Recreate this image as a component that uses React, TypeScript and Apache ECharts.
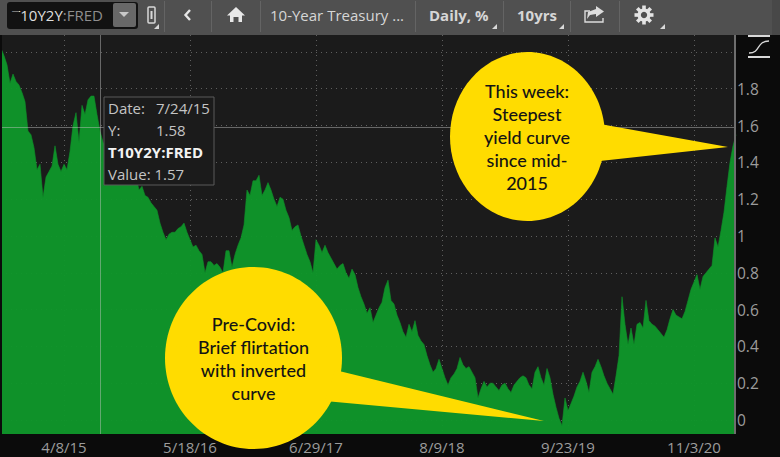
import React, { useEffect, useRef } from "react";
import * as echarts from "echarts";

const values = [
  2.02, 1.98, 1.93, 1.83, 1.88, 1.84, 1.82, 1.78, 1.73, 1.57,
  1.55, 1.48, 1.36, 1.39, 1.21, 1.32, 1.35, 1.38, 1.49, 1.39,
  1.35, 1.39, 1.36, 1.46, 1.6, 1.67, 1.51, 1.71, 1.66, 1.74,
  1.76, 1.76, 1.66, 1.57, 1.51, 1.48, 1.46, 1.47, 1.43, 1.41,
  1.42, 1.39, 1.37, 1.38, 1.35, 1.32, 1.25, 1.27, 1.22, 1.21,
  1.18, 1.16, 1.14, 1.07, 1.02, 0.98, 1.01, 1.02, 1.02, 1.04,
  1.05, 1.07, 1.02, 0.98, 0.94, 0.95, 0.92, 0.9, 0.8, 0.86,
  0.86, 0.84, 0.85, 0.83, 0.8, 0.92, 0.92, 0.83, 0.9, 0.95,
  0.99, 1.06, 1.25, 1.22, 1.3, 1.3, 1.33, 1.22, 1.25, 1.29,
  1.25, 1.2, 1.16, 1.21, 1.2, 1.14, 1.1, 1.03, 1.05, 1.06,
  1.0, 0.95, 0.9, 0.86, 0.8, 0.98, 0.95, 0.91, 0.95, 0.91,
  0.88, 0.85, 0.82, 0.84, 0.85, 0.8, 0.77, 0.82, 0.79, 0.72,
  0.67, 0.63, 0.58, 0.61, 0.53, 0.57, 0.61, 0.64, 0.72, 0.76,
  0.65, 0.63, 0.57, 0.53, 0.48, 0.45, 0.52, 0.48, 0.54, 0.46,
  0.43, 0.41, 0.35, 0.3, 0.26, 0.28, 0.33, 0.28, 0.23, 0.19,
  0.23, 0.25, 0.28, 0.34, 0.3, 0.28, 0.29, 0.26, 0.23, 0.12,
  0.17, 0.21, 0.18, 0.2, 0.2, 0.18, 0.16, 0.19, 0.2, 0.17,
  0.15, 0.19, 0.21, 0.23, 0.24, 0.23, 0.19, 0.17, 0.26, 0.29,
  0.23, 0.19, 0.28, 0.23, 0.14, 0.07, 0.01, -0.03, 0.12, 0.05,
  0.09, 0.13, 0.18, 0.21, 0.26, 0.21, 0.15, 0.26, 0.29, 0.33,
  0.29, 0.24, 0.2, 0.17, 0.14, 0.24, 0.35, 0.67, 0.52, 0.41,
  0.5, 0.41, 0.52, 0.53, 0.5, 0.65, 0.54, 0.52, 0.51, 0.49,
  0.47, 0.45, 0.49, 0.55, 0.6, 0.57, 0.56, 0.55, 0.59, 0.65,
  0.71, 0.75, 0.79, 0.71, 0.78, 0.8, 0.82, 0.84, 0.99, 0.94,
  1.03, 1.13, 1.27, 1.4, 1.49, 1.55,
];

const xTickLabels = ["4/8/15", "5/18/16", "6/29/17", "8/9/18", "9/23/19", "11/3/20"];
const xTickIndexes = [21, 63, 105, 147, 189, 231];
const yTicks = [0, 0.2, 0.4, 0.6, 0.8, 1, 1.2, 1.4, 1.6, 1.8, 2];
const yLabelTicks = [0, 0.2, 0.4, 0.6, 0.8, 1, 1.2, 1.4, 1.6, 1.8];
const crosshairIndex = 33;
const crosshairValue = 1.59;

const categories = values.map((_, i) => {
  const k = xTickIndexes.indexOf(i);
  return k >= 0 ? xTickLabels[k] : "";
});

const UI_FONT = '"Open Sans", sans-serif';
const CALLOUT_FONT = 'Lato, sans-serif';
const YELLOW = "#ffdc00";

function bodyText(x: number, y: number, text: string, extra: any = {}) {
  return {
    type: "text",
    x,
    y,
    z: 130,
    style: {
      text,
      fill: "#c4c4c4",
      font: `15px ${UI_FONT}`,
      textVerticalAlign: "middle",
      ...extra,
    },
  };
}

function calloutText(x: number, y: number, lines: string[]) {
  return lines.map((line, i) => ({
    type: "text",
    x,
    y: y + i * 23,
    z: 140,
    style: {
      text: line,
      fill: "#141414",
      font: `500 18px ${CALLOUT_FONT}`,
      textAlign: "center",
      textVerticalAlign: "middle",
    },
  }));
}

function tri(x: number) {
  return {
    type: "polygon",
    z: 121,
    shape: { points: [[x, 29], [x + 5, 29], [x + 5, 24]] },
    style: { fill: "#d8d8d8" },
  };
}

function sep(x: number) {
  return {
    type: "rect",
    z: 121,
    shape: { x, y: 1, width: 1, height: 31 },
    style: { fill: "#646464" },
  };
}

function buildGraphics() {
  const gearTeeth = [0, 45, 90, 135].map((a) => ({
    type: "rect",
    z: 122,
    x: 644,
    y: 15,
    rotation: (a * Math.PI) / 180,
    shape: { x: -1.8, y: -9.5, width: 3.6, height: 19 },
    style: { fill: "#e4e4e4" },
  }));
  return [
    // left edge
    { type: "rect", z: 50, shape: { x: 0, y: 35, width: 2, height: 399 }, style: { fill: "#0b0b0b" } },
    { type: "rect", z: 50, shape: { x: 734, y: 35, width: 2, height: 399 }, style: { fill: "#6e6e6e" } },
    // toolbar
    { type: "rect", z: 120, shape: { x: 0, y: 0, width: 780, height: 35 }, style: { fill: "#505050" } },
    { type: "rect", z: 120, shape: { x: 772, y: 0, width: 8, height: 35 }, style: { fill: "#484848" } },
    { type: "rect", z: 121, shape: { x: 7, y: 2, width: 131, height: 27, r: 3 }, style: { fill: "#121212" } },
    { type: "rect", z: 122, shape: { x: 113, y: 3, width: 23, height: 24, r: 2 }, style: { fill: "#686868" } },
    { type: "polygon", z: 123, shape: { points: [[119, 12], [129, 12], [124, 17]] }, style: { fill: "#c8c8c8" } },
    {
      type: "text",
      x: 12,
      y: 15,
      z: 123,
      style: {
        text: "{a|T10Y2Y}{b|:FRED}",
        textVerticalAlign: "middle",
        rich: {
          a: { fill: "#dedede", font: `15px ${UI_FONT}` },
          b: { fill: "#8e8e8e", font: `15px ${UI_FONT}` },
        },
      },
    },
    { type: "rect", z: 124, shape: { x: 8, y: 11.5, width: 11, height: 13 }, style: { fill: "#121212" } },
    // link icon
    { type: "rect", z: 122, shape: { x: 148, y: 7, width: 7, height: 16, r: 1 }, style: { fill: "none", stroke: "#d8d8d8", lineWidth: 1.5 } },
    { type: "rect", z: 122, shape: { x: 150.5, y: 11, width: 2, height: 8 }, style: { fill: "#d8d8d8" } },
    tri(154),
    sep(164),
    // back chevron
    { type: "polyline", z: 122, shape: { points: [[190, 10], [185.5, 15], [190, 20]] }, style: { fill: "none", stroke: "#e6e6e6", lineWidth: 2.4 } },
    sep(211),
    // home icon
    { type: "polygon", z: 122, shape: { points: [[236, 7], [245, 15.5], [242, 15.5], [242, 22], [238.5, 22], [238.5, 17], [233.5, 17], [233.5, 22], [230, 22], [230, 15.5], [227, 15.5]] }, style: { fill: "#e8e8e8" } },
    sep(260),
    bodyText(270, 15, "10-Year Treasury ...", { fill: "#d6d6d6" }),
    sep(415),
    bodyText(429, 15, "Daily, %", { fill: "#d6d6d6", font: `bold 15px ${UI_FONT}` }),
    tri(492),
    sep(503),
    bodyText(517, 15, "10yrs", { fill: "#d6d6d6", font: `bold 15px ${UI_FONT}` }),
    tri(559),
    sep(570),
    // share icon
    { type: "polyline", z: 122, shape: { points: [[590, 11], [585, 11], [585, 22], [603, 22], [603, 18]] }, style: { fill: "none", stroke: "#dcdcdc", lineWidth: 1.4 } },
    { type: "polygon", z: 122, shape: { points: [[596, 6], [604, 11.5], [596, 17], [596, 14], [590, 15], [587, 19], [588, 12], [596, 9]] }, style: { fill: "#dcdcdc" } },
    sep(619),
    ...gearTeeth,
    { type: "circle", z: 123, shape: { cx: 644, cy: 15, r: 6.5 }, style: { fill: "#e4e4e4" } },
    { type: "circle", z: 124, shape: { cx: 644, cy: 15, r: 3.2 }, style: { fill: "#505050" } },
    tri(660),
    // scale icon
    { type: "rect", z: 60, shape: { x: 748, y: 35, width: 22, height: 2 }, style: { fill: "#d8d8d8" } },
    { type: "rect", z: 60, shape: { x: 748, y: 56, width: 22, height: 2 }, style: { fill: "#d8d8d8" } },
    { type: "bezierCurve", z: 60, shape: { x1: 749, y1: 53, x2: 769, y2: 41, cpx1: 761, cpy1: 53, cpx2: 756, cpy2: 41 }, style: { fill: "none", stroke: "#d8d8d8", lineWidth: 1.3 } },
    // tooltip box
    { type: "rect", z: 125, shape: { x: 104, y: 97, width: 110, height: 88 }, style: { fill: "#1b1b1b", stroke: "#5a5a5a", lineWidth: 1 } },
    bodyText(108, 108, "Date:"),
    bodyText(156, 108, "7/24/15"),
    bodyText(108, 130, "Y:"),
    bodyText(156, 130, "1.58"),
    bodyText(108, 152, "T10Y2Y:FRED", { fill: "#f2f2f2", font: `bold 15px ${UI_FONT}` }),
    bodyText(108, 174, "Value: 1.57"),
    // callout: this week
    { type: "ellipse", z: 135, shape: { cx: 527.5, cy: 136.5, rx: 77.5, ry: 84.5 }, style: { fill: YELLOW } },
    { type: "polygon", z: 135, shape: { points: [[600, 124], [728, 147], [600, 161]] }, style: { fill: YELLOW } },
    ...calloutText(527, 91, ["This week:", "Steepest", "yield curve", "since mid-", "2015"]),
    // callout: pre-covid
    { type: "ellipse", z: 135, shape: { cx: 253.5, cy: 358, rx: 88.5, ry: 91 }, style: { fill: YELLOW } },
    { type: "polygon", z: 135, shape: { points: [[335, 370], [544, 421], [325, 401]] }, style: { fill: YELLOW } },
    ...calloutText(253.5, 324, ["Pre-Covid:", "Brief flirtation", "with inverted", "curve"]),
  ];
}

export default function App() {
  const ref = useRef<HTMLDivElement>(null);

  useEffect(() => {
    document.body.style.margin = "0";
    document.body.style.overflow = "hidden";
    const chart = echarts.init(ref.current!, undefined, { renderer: "svg" });
    const gridLine = { color: "rgba(255,255,255,0.3)", width: 1, type: [1, 4] as any };
    chart.setOption({
      animation: false,
      backgroundColor: "#0b0b0b",
      grid: {
        show: true,
        backgroundColor: "#1b1b1b",
        borderWidth: 0,
        left: 1,
        top: 35,
        width: 735,
        height: 399,
        containLabel: false,
      },
      xAxis: {
        type: "category",
        data: categories,
        boundaryGap: false,
        axisLine: { show: false },
        axisTick: { show: false },
        axisLabel: {
          interval: (i: number) => xTickIndexes.includes(i),
          color: "#9c9c9c",
          fontFamily: UI_FONT,
          fontSize: 15,
          margin: 5,
          hideOverlap: false,
        },
        splitLine: {
          show: true,
          interval: (i: number) => xTickIndexes.includes(i),
          lineStyle: gridLine,
        },
      },
      yAxis: {
        type: "value",
        position: "right",
        min: -0.076,
        max: 2.092,
        axisLine: { show: false },
        axisTick: { show: false, customValues: yTicks },
        axisLabel: {
          customValues: yLabelTicks,
          color: "#9c9c9c",
          fontFamily: UI_FONT,
          fontSize: 15.5,
          margin: 1,
          align: "left",
          showMinLabel: true,
          showMaxLabel: true,
          formatter: (v: number) => String(Math.round(v * 10) / 10),
        },
        splitLine: { show: true, lineStyle: gridLine },
      },
      series: [
        {
          type: "line",
          data: values,
          showSymbol: false,
          symbol: "none",
          silent: true,
          lineStyle: { color: "#0f922a", width: 0.6 },
          areaStyle: { color: "#0f962a", opacity: 0.96, origin: "start" },
          markLine: {
            silent: true,
            symbol: "none",
            animation: false,
            label: { show: false },
            lineStyle: { color: "rgba(200,200,200,0.45)", width: 1, type: "solid" },
            data: [{ xAxis: crosshairIndex }, { yAxis: crosshairValue }],
          },
        },
      ],
      graphic: { elements: buildGraphics() },
    });
    return () => chart.dispose();
  }, []);

  return <div ref={ref} style={{ position: "absolute", left: 0, top: 0, width: 780, height: 457 }} />;
}
